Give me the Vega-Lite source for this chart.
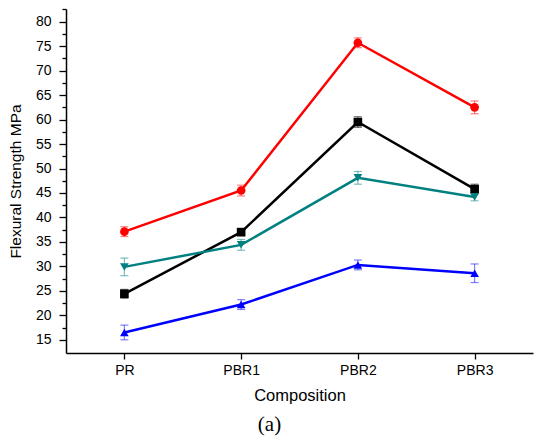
{
  "$schema": "https://vega.github.io/schema/vega-lite/v6.json",
  "width": 467,
  "height": 344,
  "autosize": {"type": "none"},
  "padding": {"left": 66, "top": 9, "right": 5, "bottom": 91},
  "background": "white",
  "title": {"text": "(a)", "orient": "bottom", "anchor": "middle", "frame": "group", "font": "Liberation Serif", "fontSize": 21, "fontWeight": "normal", "color": "#000", "offset": 10, "dx": -30},
  "config": {
    "view": {"stroke": null},
    "legend": {"symbolOpacity": 1},
    "axis": {"grid": false, "domainColor": "#000", "domainWidth": 1.5, "tickColor": "#000", "tickWidth": 1.3, "labelColor": "#000", "titleColor": "#000", "labelFont": "Liberation Sans", "titleFont": "Liberation Sans", "titleFontWeight": "normal"}
  },
  "data": {
    "values": [
      {"comp": "PR", "series": "Dry Untreated", "v": 24.4, "lo": 23.5, "hi": 25.3},
      {"comp": "PBR1", "series": "Dry Untreated", "v": 37.0, "lo": 36.3, "hi": 37.7},
      {"comp": "PBR2", "series": "Dry Untreated", "v": 59.5, "lo": 58.4, "hi": 60.6},
      {"comp": "PBR3", "series": "Dry Untreated", "v": 45.8, "lo": 44.8, "hi": 46.8},
      {"comp": "PR", "series": "Dry Alkali Treated", "v": 37.1, "lo": 36.1, "hi": 38.1},
      {"comp": "PBR1", "series": "Dry Alkali Treated", "v": 45.5, "lo": 44.4, "hi": 46.6},
      {"comp": "PBR2", "series": "Dry Alkali Treated", "v": 75.7, "lo": 74.7, "hi": 76.7},
      {"comp": "PBR3", "series": "Dry Alkali Treated", "v": 62.5, "lo": 61.2, "hi": 63.8},
      {"comp": "PR", "series": "Wet Untreated", "v": 16.5, "lo": 15.0, "hi": 18.0},
      {"comp": "PBR1", "series": "Wet Untreated", "v": 22.2, "lo": 21.2, "hi": 23.2},
      {"comp": "PBR2", "series": "Wet Untreated", "v": 30.3, "lo": 29.3, "hi": 31.3},
      {"comp": "PBR3", "series": "Wet Untreated", "v": 28.6, "lo": 26.7, "hi": 30.5},
      {"comp": "PR", "series": "Wet Alkali Treated", "v": 29.9, "lo": 28.1, "hi": 31.7},
      {"comp": "PBR1", "series": "Wet Alkali Treated", "v": 34.4, "lo": 33.3, "hi": 35.5},
      {"comp": "PBR2", "series": "Wet Alkali Treated", "v": 48.1, "lo": 46.8, "hi": 49.4},
      {"comp": "PBR3", "series": "Wet Alkali Treated", "v": 44.2, "lo": 43.4, "hi": 45.0}
    ]
  },
  "encoding": {
    "x": {"field": "comp", "type": "ordinal", "sort": ["PR", "PBR1", "PBR2", "PBR3"],
      "scale": {"type": "point", "padding": 0.5},
      "axis": {"title": "Composition", "labelAngle": 0, "labelFontSize": 14, "titleFontSize": 16.5, "tickSize": 6, "labelPadding": 4, "titlePadding": 10}}
  },
  "layer": [
    {
      "mark": {"type": "rule", "strokeOpacity": 0.5, "strokeWidth": 1.2},
      "encoding": {
        "y": {"field": "lo", "type": "quantitative", "scale": {"domain": [12.3, 82.6], "nice": false, "zero": false},
          "axis": {"orient": "left", "values": [17.5, 22.5, 27.5, 32.5, 37.5, 42.5, 47.5, 52.5, 57.5, 62.5, 67.5, 72.5, 77.5, 82.5], "labels": false, "domain": false, "tickSize": 4, "title": null}},
        "y2": {"field": "hi"},
        "stroke": {"field": "series", "type": "nominal", "legend": null,
          "scale": {"domain": ["Dry Untreated", "Dry Alkali Treated", "Wet Untreated", "Wet Alkali Treated"], "range": ["#000000", "#ff0000", "#0000ff", "#008080"]}}
      }
    },
    {
      "mark": {"type": "tick", "opacity": 1, "fillOpacity": 0.5, "size": 8, "thickness": 1.2},
      "encoding": {
        "y": {"field": "lo", "type": "quantitative", "axis": null},
        "fill": {"field": "series", "type": "nominal", "legend": null,
          "scale": {"domain": ["Dry Untreated", "Dry Alkali Treated", "Wet Untreated", "Wet Alkali Treated"], "range": ["#000000", "#ff0000", "#0000ff", "#008080"]}}
      }
    },
    {
      "mark": {"type": "tick", "opacity": 1, "fillOpacity": 0.5, "size": 8, "thickness": 1.2},
      "encoding": {
        "y": {"field": "hi", "type": "quantitative", "axis": null},
        "fill": {"field": "series", "type": "nominal", "legend": null}
      }
    },
    {
      "mark": {"type": "line", "strokeWidth": 2.5},
      "encoding": {
        "y": {"field": "v", "type": "quantitative",
          "axis": {"orient": "left", "values": [15, 20, 25, 30, 35, 40, 45, 50, 55, 60, 65, 70, 75, 80], "title": "Flexural Strength MPa", "labelFontSize": 14, "titleFontSize": 15.5, "tickSize": 7, "labelPadding": 8, "titlePadding": 12}},
        "stroke": {"field": "series", "type": "nominal", "legend": null}
      }
    },
    {
      "mark": {"type": "point", "filled": true, "opacity": 1, "size": 75},
      "encoding": {
        "y": {"field": "v", "type": "quantitative", "axis": null},
        "color": {"field": "series", "type": "nominal",
          "scale": {"domain": ["Dry Untreated", "Dry Alkali Treated", "Wet Untreated", "Wet Alkali Treated"], "range": ["#000000", "#ff0000", "#0000ff", "#008080"]},
          "legend": {"title": null, "orient": "none", "legendX": 22, "legendY": -2, "strokeColor": "#666", "strokeWidth": 1, "padding": 5,
            "labelFont": "Liberation Serif", "labelFontSize": 18, "labelColor": "#000", "symbolSize": 80, "symbolOffset": 17, "labelOffset": 32, "rowPadding": 4}},
        "shape": {"field": "series", "type": "nominal",
          "scale": {"domain": ["Dry Untreated", "Dry Alkali Treated", "Wet Untreated", "Wet Alkali Treated"], "range": ["square", "circle", "triangle-up", "triangle-down"]}}
      }
    }
  ],
  "resolve": {"axis": {"y": "independent"}}
}
